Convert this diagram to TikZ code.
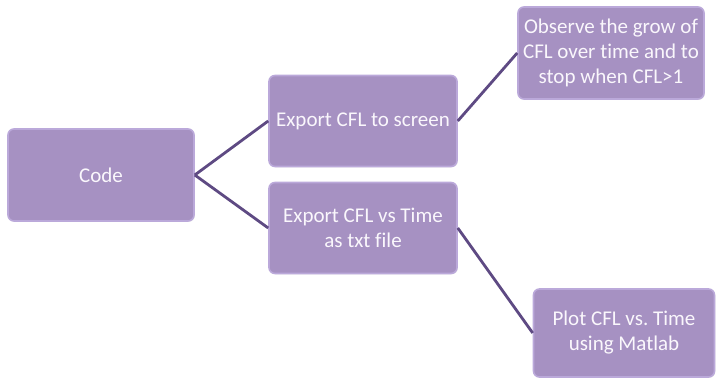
\documentclass[tikz,border=0pt]{standalone}
\usepackage{fontspec}
\setmainfont[Ligatures=NoCommon]{Carlito}
\usetikzlibrary{shadows}

\definecolor{boxfill}{HTML}{A691C2}
\definecolor{boxrim}{HTML}{BBA9DA}
\definecolor{linkcol}{HTML}{5E4A83}
\definecolor{boxtext}{HTML}{FAF7FC}

\begin{document}
\begin{tikzpicture}[
    x=1pt, y=1pt,
    stepbox/.style={
        rectangle, rounded corners=6pt,
        fill=boxfill, draw=boxrim, line width=1.6pt,
        drop shadow={opacity=0.18, shadow xshift=0.8pt, shadow yshift=-0.8pt},
        text=boxtext, font=\fontsize{21}{25}\selectfont,
        align=center, inner sep=0pt,
        minimum width=186, minimum height=92
    },
    link/.style={linkcol, line width=2.8pt}
]

    \useasboundingbox (0,0) rectangle (716,379);

    \node[stepbox] (code) at (101,204) {Code};
    \node[stepbox, minimum width=188, minimum height=91] (screen) at (363,258) {Export CFL to screen};
    \node[stepbox, minimum width=188, minimum height=91] (txt) at (363,151) {Export CFL vs Time\\as txt file};
    \node[stepbox] (observe) at (611,326) {Observe the grow of\\CFL over time and to\\stop when CFL>1};
    \node[stepbox, minimum width=181, minimum height=88] (plot) at (624,46) {Plot CFL vs.\ Time\\using Matlab};

    \draw[link] (code.east) -- (screen.west);
    \draw[link] (code.east) -- (txt.west);
    \draw[link] (screen.east) -- (observe.west);
    \draw[link] (txt.east) -- (plot.west);

\end{tikzpicture}
\end{document}
